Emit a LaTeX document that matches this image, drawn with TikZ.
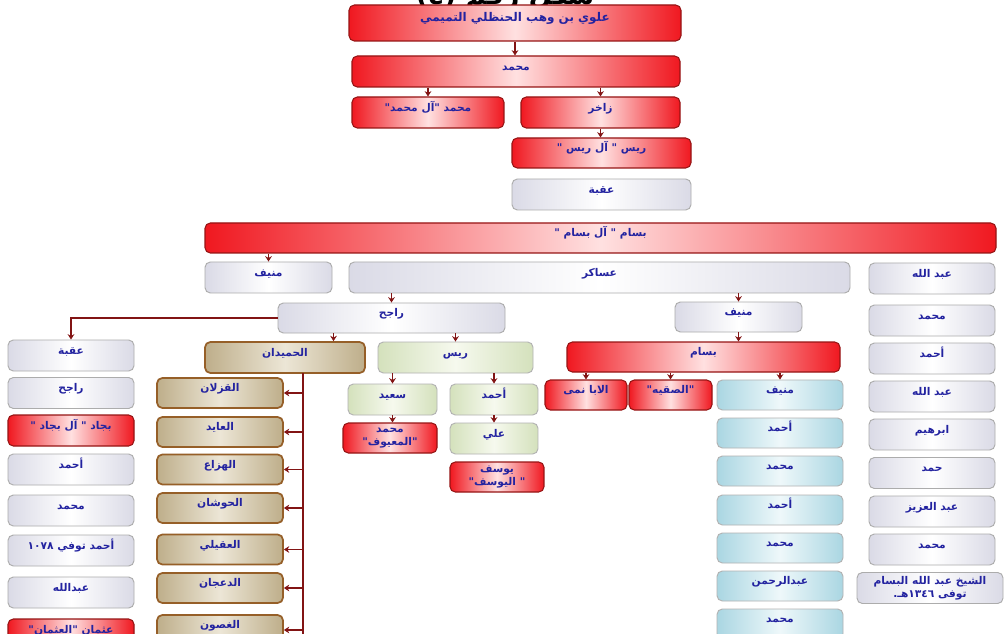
\documentclass[tikz,border=0pt]{standalone}
\usepackage{fontspec}
\usetikzlibrary{arrows.meta, positioning, calc}
\newfontfamily\arabicfont[Script=Arabic]{DejaVu Sans}
\TeXXeTstate=1
\newcommand{\ar}[1]{\arabicfont\bfseries\beginR #1\endR}

\definecolor{boxred}{RGB}{240,24,32}
\definecolor{redline}{RGB}{150,20,20}
\definecolor{namecol}{RGB}{35,35,160}
\definecolor{arrowcol}{RGB}{130,20,20}
\definecolor{grayedge}{RGB}{218,218,230}
\definecolor{brownedge}{RGB}{190,174,138}
\definecolor{brownmid}{RGB}{236,230,214}
\definecolor{brownline}{RGB}{150,95,40}
\definecolor{greenedge}{RGB}{212,225,188}
\definecolor{greenmid}{RGB}{246,249,238}
\definecolor{blueedge}{RGB}{170,214,226}
\definecolor{bluemid}{RGB}{238,248,250}

\begin{document}
\begin{tikzpicture}[
    x=0.75pt, y=-0.75pt,
    sz/.style 2 args={minimum width=#1*0.75pt, minimum height=#2*0.75pt},
    block/.style={rectangle, rounded corners=4pt, inner sep=1pt, text=namecol, font=\fontsize{8}{9}\selectfont, text height=6pt, text depth=8pt},
    redblock/.style={block, draw=redline, line width=0.8pt, left color=boxred, right color=boxred, middle color=red!12},
    grayblock/.style={block, draw=gray!65, line width=0.7pt, left color=grayedge, right color=grayedge, middle color=white},
    brownblock/.style={block, draw=brownline, line width=1.3pt, left color=brownedge, right color=brownedge, middle color=brownmid},
    greenblock/.style={block, draw=gray!60, line width=0.7pt, left color=greenedge, right color=greenedge, middle color=greenmid},
    blueblock/.style={block, draw=gray!60, line width=0.7pt, left color=blueedge, right color=blueedge, middle color=bluemid},
    twoline/.style={align=center, text height={}, text depth={}, font=\fontsize{8}{10}\selectfont},
    descent/.style={-{Stealth[length=4pt, width=5pt]}, line width=1.2pt, arrowcol},
    stem/.style={line width=1.2pt, arrowcol}
]
    \useasboundingbox (0,0) rectangle (1005,634);
    \fill[white] (0,0) rectangle (1005,634);

    % Title (cut at the top)
    \node (title) [anchor=base, font=\fontsize{20}{22}\selectfont] at (505,5) {\arabicfont\bfseries\beginR شكل رقم (٤)\endR};

    % Top of the tree
    \node (alawi) [redblock, sz={332}{36}, font=\fontsize{9}{10}\selectfont] at (515,23) {\ar{علوي بن وهب الحنظلي التميمي}};
    \node (mhd) [redblock, sz={328}{31}] at (516,71.5) {\ar{محمد}};
    \node (mhdal) [redblock, sz={152}{31}] at (428,112.5) {\ar{محمد "آل محمد"}};
    \node (zakhir) [redblock, sz={159}{31}] at (600.5,112.5) {\ar{زاخر}};
    \node (raisal) [redblock, sz={179}{30}] at (601.5,153) {\ar{ريس " آل ريس "}};
    \node (uqba) [grayblock, sz={179}{31}] at (601.5,194.5) {\ar{عقبة}};
    \node (bassamal) [redblock, sz={791}{30}] at (600.5,238) {\ar{بسام " آل بسام "}};

    % Sons of Bassam
    \node (munif) [grayblock, sz={127}{31}] at (268.5,277.5) {\ar{منيف}};
    \node (asakir) [grayblock, sz={501}{31}] at (599.5,277.5) {\ar{عساكر}};
    \node (raajih) [grayblock, sz={227}{30}] at (391.5,318) {\ar{راجح}};
    \node (munifm) [grayblock, sz={127}{30}] at (738.5,317) {\ar{منيف}};

    % Right column
    \node (abdr) [grayblock, sz={126}{31}] at (932,278.5) {\ar{عبد الله}};
    \node (mhdr) [grayblock, sz={126}{31}] at (932,320.5) {\ar{محمد}};
    \node (ahmr) [grayblock, sz={126}{31}] at (932,358.5) {\ar{أحمد}};
    \node (abdrr) [grayblock, sz={126}{31}] at (932,396.5) {\ar{عبد الله}};
    \node (ibr) [grayblock, sz={126}{31}] at (932,434.5) {\ar{ابرهيم}};
    \node (hamd) [grayblock, sz={126}{31}] at (932,473) {\ar{حمد}};
    \node (aziz) [grayblock, sz={126}{31}] at (932,511.5) {\ar{عبد العزيز}};
    \node (mhdrr) [grayblock, sz={126}{31}] at (932,549.5) {\ar{محمد}};
    \node (sheikh) [grayblock, twoline, sz={146}{31}] at (930,588) {\ar{الشيخ عبد الله البسام}\\\ar{توفى \beginL١٣٤٦\endL{}هـ.}};

    % Left column
    \node (uqbal) [grayblock, sz={126}{31}] at (71,355.5) {\ar{عقبة}};
    \node (raajihl) [grayblock, sz={126}{31}] at (71,393) {\ar{راجح}};
    \node (bujad) [redblock, sz={126}{31}] at (71,430.5) {\ar{بجاد " آل بجاد "}};
    \node (ahml) [grayblock, sz={126}{31}] at (71,469.5) {\ar{أحمد}};
    \node (mhdl) [grayblock, sz={126}{31}] at (71,510.5) {\ar{محمد}};
    \node (ahmtwf) [grayblock, sz={126}{31}] at (71,550.5) {\ar{أحمد توفي \beginL١٠٧٨\endL}};
    \node (abdl) [grayblock, sz={126}{31}] at (71,592.5) {\ar{عبدالله}};
    \node (uthman) [redblock, sz={126}{31}] at (71,634.5) {\ar{عثمان "العثمان"}};

    % Al-Humaydan
    \node (humaydan) [brownblock, sz={160}{31}] at (285,357.5) {\ar{الحميدان}};
    \node (qz) [brownblock, sz={126}{30}] at (220,393) {\ar{القزلان}};
    \node (ayd) [brownblock, sz={126}{30}] at (220,432) {\ar{العايد}};
    \node (hz) [brownblock, sz={126}{30}] at (220,469.5) {\ar{الهزاع}};
    \node (hsh) [brownblock, sz={126}{30}] at (220,508) {\ar{الحوشان}};
    \node (uqayli) [brownblock, sz={126}{30}] at (220,549.5) {\ar{العقيلي}};
    \node (daj) [brownblock, sz={126}{30}] at (220,588) {\ar{الدعجان}};
    \node (ghs) [brownblock, sz={126}{30}] at (220,630) {\ar{الغصون}};
    \coordinate (hum) at ($(humaydan.north)!0.6!(humaydan.north east)$);
    \coordinate (trunk) at (303,373);
    \coordinate (trunkend) at (303,640);

    % Rais branch
    \node (rais) [greenblock, sz={155}{31}] at (455.5,357.5) {\ar{ريس}};
    \node (saeed) [greenblock, sz={89}{31}] at (392.5,399.5) {\ar{سعيد}};
    \node (ahmg) [greenblock, sz={88}{31}] at (494,399.5) {\ar{أحمد}};
    \node (ali) [greenblock, sz={88}{31}] at (494,438.5) {\ar{علي}};
    \node (maayuf) [redblock, twoline, sz={94}{30}] at (390,438) {\ar{محمد}\\\ar{"المعيوف"}};
    \node (yusuf) [redblock, twoline, sz={94}{30}] at (497,477) {\ar{يوسف}\\\ar{" اليوسف"}};

    % Bassam branch
    \node (bassam) [redblock, sz={273}{30}] at (703.5,357) {\ar{بسام}};
    \node (abanami) [redblock, sz={82}{30}] at (586,395) {\ar{الابا نمى}};
    \node (saqiya) [redblock, sz={83}{30}] at (670.5,395) {\ar{"الصقيه"}};
    \node (munifb) [blueblock, sz={126}{30}] at (780,395) {\ar{منيف}};
    \node (ahmb) [blueblock, sz={126}{30}] at (780,433) {\ar{أحمد}};
    \node (mhdb) [blueblock, sz={126}{30}] at (780,471) {\ar{محمد}};
    \node (ahmbb) [blueblock, sz={126}{30}] at (780,510) {\ar{أحمد}};
    \node (mhdbb) [blueblock, sz={126}{30}] at (780,548) {\ar{محمد}};
    \node (rahman) [blueblock, sz={126}{30}] at (780,586) {\ar{عبدالرحمن}};
    \node (mhdbbb) [blueblock, sz={126}{30}] at (780,624) {\ar{محمد}};

    % Arrows
    \draw [descent] (alawi.south) -- (alawi.south |- mhd.north);
    \draw [descent] (mhd.south -| mhdal.north) -- (mhdal.north);
    \draw [descent] (mhd.south -| zakhir.north) -- (zakhir.north);
    \draw [descent] (zakhir.south) -- (zakhir.south |- raisal.north);
    \draw [descent] (bassamal.south -| munif.north) -- (munif.north);
    \draw [descent] (asakir.south -| raajih.north) -- (raajih.north);
    \draw [descent] (asakir.south -| munifm.north) -- (munifm.north);
    \draw [descent] (raajih.west) -| (uqbal.north);
    \draw [descent] (raajih.south -| hum) -- (hum);
    \draw [descent] (raajih.south -| rais.north) -- (rais.north);
    \draw [descent] (rais.south -| saeed.north) -- (saeed.north);
    \draw [descent] (rais.south -| ahmg.north) -- (ahmg.north);
    \draw [descent] (saeed.south) -- (saeed.south |- maayuf.north);
    \draw [descent] (ahmg.south) -- (ali.north);
    \draw [descent] (munifm.south) -- (munifm.south |- bassam.north);
    \draw [descent] (bassam.south -| abanami.north) -- (abanami.north);
    \draw [descent] (bassam.south -| saqiya.north) -- (saqiya.north);
    \draw [descent] (bassam.south -| munifb.north) -- (munifb.north);

    % Al-Humaydan families
    \draw [stem] (trunk) -- (trunkend);
    \foreach \fam in {qz, ayd, hz, hsh, uqayli, daj, ghs}
        \draw [descent] (trunk |- \fam.east) -- (\fam.east);

\end{tikzpicture}
\end{document}
